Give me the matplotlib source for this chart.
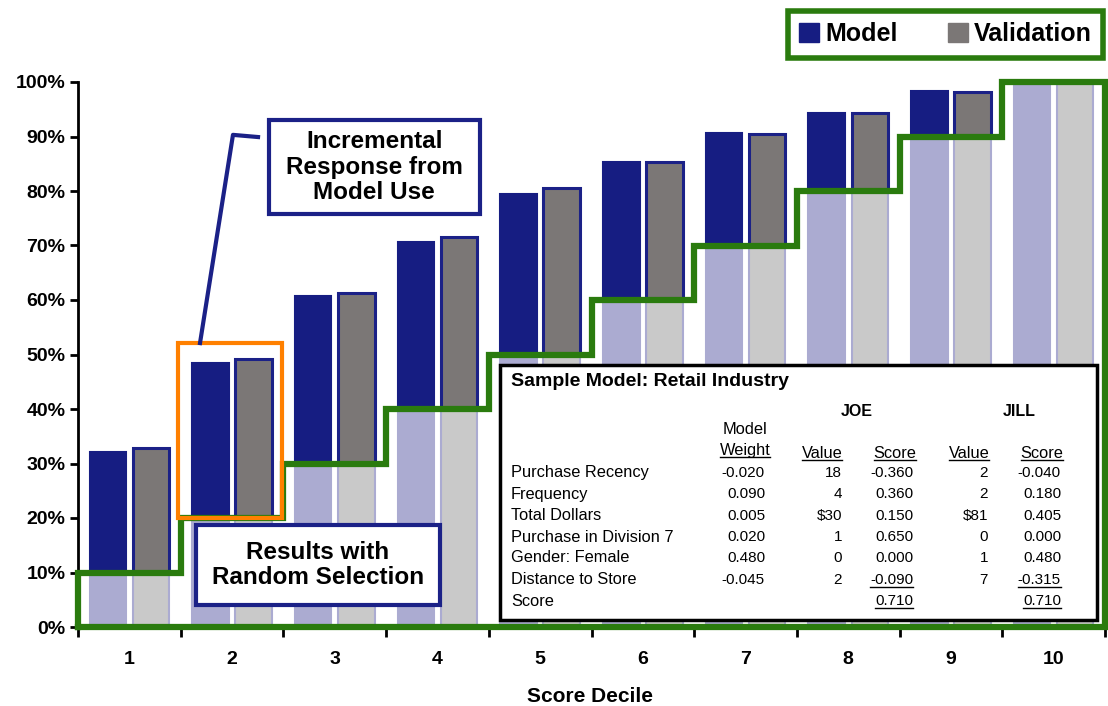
import numpy as np
import matplotlib.pyplot as plt
from matplotlib.patches import Rectangle, Patch
from matplotlib.lines import Line2D

plt.rcParams['font.family'] = ['Liberation Sans', 'DejaVu Sans']

deciles = np.arange(1, 11)
model = [0.321, 0.484, 0.607, 0.706, 0.794, 0.853, 0.906, 0.943, 0.983, 1.0]
validation = [0.328, 0.492, 0.613, 0.716, 0.805, 0.853, 0.905, 0.943, 0.982, 1.0]
random_sel = [0.1, 0.2, 0.3, 0.4, 0.5, 0.6, 0.7, 0.8, 0.9, 1.0]

features = ['Purchase Recency', 'Frequency', 'Total Dollars', 'Purchase in Division 7',
            'Gender: Female', 'Distance to Store', 'Score']
weights = ['-0.020', '0.090', '0.005', '0.020', '0.480', '-0.045', '']
joe_values = ['18', '4', '$30', '1', '0', '2', '']
joe_scores = ['-0.360', '0.360', '0.150', '0.650', '0.000', '-0.090', '0.710']
jill_values = ['2', '2', '$81', '0', '1', '7', '']
jill_scores = ['-0.040', '0.180', '0.405', '0.000', '0.480', '-0.315', '0.710']

NAVY = '#161d82'
NAVY_EDGE = '#1b2187'
GRAY = '#7b7776'
LAV = '#ababd1'
LGRAY = '#c9c9c9'
GREEN = '#2a7b0e'
ORANGE = '#ff8000'

W, H = 1108, 706
fig = plt.figure(figsize=(W / 100, H / 100), dpi=100)
ax = fig.add_axes([78 / W, 1 - 627 / H, 1027 / W, 545 / H])

def fx(px):
    return px / W

def fy(py):
    return 1 - py / H

bw = 0.355
off = 0.21
for d, m, v, r in zip(deciles, model, validation, random_sel):
    # lower part (random level) in light colours
    ax.bar(d - off, min(m, r), bw, color=LAV, edgecolor=LAV, lw=1.5, zorder=2)
    ax.bar(d + off, min(v, r), bw, color=LGRAY, edgecolor=LAV, lw=1.5, zorder=2)
    if m > r:
        ax.bar(d - off, m - r, bw, bottom=r, color=NAVY, edgecolor=NAVY, lw=1.5, zorder=2)
    if v > r:
        ax.bar(d + off, v - r, bw, bottom=r, color=GRAY, edgecolor=NAVY_EDGE, lw=2.2, zorder=2)

# random selection step outline
sx = [0.5, 0.5]
sy = [0.0, random_sel[0]]
for d, r in zip(deciles, random_sel):
    sx += [d - 0.5, d + 0.5]
    sy += [r, r]
sx += [10.5, 0.5]
sy += [0.0, 0.0]
ax.plot(sx, sy, color=GREEN, lw=4.5, zorder=4, clip_on=False, solid_joinstyle='miter')

ax.set_xlim(0.5, 10.5)
ax.set_ylim(0, 1.0)
for s in ['top', 'right', 'bottom']:
    ax.spines[s].set_visible(False)
ax.spines['left'].set_linewidth(2)
yt = np.arange(0, 1.01, 0.1)
ax.set_yticks(yt)
ax.set_yticklabels(['%d%%' % round(t * 100) for t in yt], fontsize=14, fontweight='bold')
ax.set_xticks(deciles)
ax.set_xticklabels([str(d) for d in deciles], fontsize=14, fontweight='bold')
ax.set_xticks(np.arange(0.5, 11, 1), minor=True)
ax.tick_params(axis='x', which='major', length=0, pad=17)
ax.tick_params(axis='x', which='minor', length=7, width=2)
ax.tick_params(axis='y', length=6, width=2, pad=3)
fig.text(fx(590), fy(697), 'Score Decile', ha='center', va='center',
         fontsize=15, fontweight='bold')

# orange highlight around decile 2
ax.add_patch(Rectangle((1.47, 0.2), 1.02, 0.322, fill=False, ec=ORANGE, lw=3, zorder=5))

# callouts
ax.plot([1.688, 2.009, 2.253], [0.521, 0.903, 0.899], color=NAVY_EDGE, lw=3, zorder=5,
        clip_on=False)
ax.add_patch(Rectangle((2.36, 0.758), 2.05, 0.172, fc='white', ec=NAVY_EDGE, lw=3, zorder=6))
ax.text(3.385, 0.844, 'Incremental\nResponse from\nModel Use', ha='center', va='center',
        fontsize=17.5, fontweight='bold', zorder=7, linespacing=1.15)
ax.add_patch(Rectangle((1.649, 0.040), 2.376, 0.147, fc='white', ec=NAVY_EDGE, lw=3, zorder=6))
ax.text(2.837, 0.114, 'Results with\nRandom Selection', ha='center', va='center',
        fontsize=17.5, fontweight='bold', zorder=7, linespacing=1.15)

# legend
handles = [Patch(fc=NAVY, ec=NAVY), Patch(fc=GRAY, ec=GRAY)]
leg = fig.legend(handles, ['Model', 'Validation'], ncol=2, loc='upper right',
                 bbox_to_anchor=(fx(1103), fy(11)), frameon=True, fancybox=False,
                 framealpha=1, prop={'size': 18, 'weight': 'bold'}, handlelength=0.8,
                 handleheight=0.8, handletextpad=0.25, columnspacing=2.0, borderpad=0.45,
                 borderaxespad=0)
leg.get_frame().set_edgecolor(GREEN)
leg.get_frame().set_linewidth(4)

# inset table
fig.patches.append(Rectangle((fx(500), fy(620)), fx(1097) - fx(500), fy(365) - fy(620),
                             transform=fig.transFigure, fc='white', ec='black', lw=2.5,
                             zorder=10))
fig.text(fx(511), fy(382), 'Sample Model: Retail Industry', fontsize=14, fontweight='bold',
         va='center', zorder=11)
fig.text(fx(857), fy(412), 'JOE', fontsize=11.5, fontweight='bold', ha='center', va='center',
         zorder=11)
fig.text(fx(1019), fy(412), 'JILL', fontsize=11.5, fontweight='bold', ha='center',
         va='center', zorder=11)
fig.text(fx(745), fy(430), 'Model', fontsize=11.8, ha='center', va='center', zorder=11)

underlined = []
for label, cx in [('Weight', 745), ('Value', 822), ('Score', 895), ('Value', 969),
                  ('Score', 1042)]:
    y = 450 if label == 'Weight' else 453
    underlined.append(fig.text(fx(cx), fy(y), label, fontsize=11.8, ha='center',
                               va='center', zorder=11))

row_y = [473, 494, 516, 537, 558, 580, 601]
for i, yy in enumerate(row_y):
    fig.text(fx(511), fy(yy), features[i], fontsize=11.8, va='center', zorder=11)
    fig.text(fx(765), fy(yy), weights[i], fontsize=11, ha='right', va='center', zorder=11)
    fig.text(fx(842), fy(yy), joe_values[i], fontsize=11, ha='right', va='center', zorder=11)
    t1 = fig.text(fx(913), fy(yy), joe_scores[i], fontsize=11, ha='right', va='center',
                  zorder=11)
    fig.text(fx(988), fy(yy), jill_values[i], fontsize=11, ha='right', va='center', zorder=11)
    t2 = fig.text(fx(1061), fy(yy), jill_scores[i], fontsize=11, ha='right', va='center',
                  zorder=11)
    if i >= 5:
        underlined += [t1, t2]

fig.canvas.draw()
r = fig.canvas.get_renderer()
for t in underlined:
    bb = t.get_window_extent(r)
    yline = bb.y0 + 0.5
    fig.add_artist(Line2D([bb.x0 / W, bb.x1 / W], [yline / H, yline / H], color='black',
                          lw=1, zorder=11))

fig.savefig('out.png', dpi=100)
